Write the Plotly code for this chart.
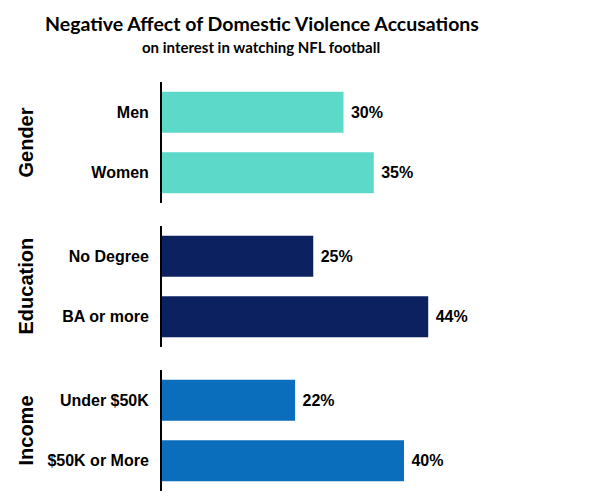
import plotly.graph_objects as go
from plotly.subplots import make_subplots

title = "Negative Affect of Domestic Violence Accusations"
subtitle = "on interest in watching NFL football"

groups = ["Gender", "Education", "Income"]
gender_cats = ["Men", "Women"]
gender_vals = [30, 35]
education_cats = ["No Degree", "BA or more"]
education_vals = [25, 44]
income_cats = ["Under $50K", "$50K or More"]
income_vals = [22, 40]
colors = ["#5cd9c9", "#0c2260", "#0a6ebd"]

cats = [gender_cats, education_cats, income_cats]
vals = [gender_vals, education_vals, income_vals]

W, H = 600, 503
fig = make_subplots(rows=3, cols=1)

# pixel layout
x0 = 162
px_per_unit = 6.05
y_domains_px = [(82, 203), (226, 347), (370, 491)]

LAB = "Liberation Sans"
for i in range(3):
    fig.add_trace(go.Bar(
        y=cats[i], x=vals[i], orientation="h",
        marker=dict(color=colors[i], line=dict(width=0)),
        texttemplate=" %{x}%", textposition="outside",
        textfont=dict(family=LAB, size=16, color="black", weight="bold"),
        cliponaxis=False, showlegend=False, hoverinfo="skip",
    ), row=i + 1, col=1)

xmax = (W - x0) / px_per_unit
for i in range(3):
    top, bot = y_domains_px[i]
    ax = "" if i == 0 else str(i + 1)
    fig.layout["xaxis" + ax].update(
        domain=[x0 / W, 1], range=[0, xmax], visible=False)
    fig.layout["yaxis" + ax].update(
        domain=[1 - bot / H, 1 - top / H],
        autorange="reversed",
        showline=True, linecolor="black", linewidth=2,
        showgrid=False, zeroline=False, ticks="",
        ticklabelstandoff=8,
        tickfont=dict(family=LAB, size=16, color="black", weight="bold"),
    )
    fig.add_annotation(
        text=groups[i], xref="paper", yref="paper",
        x=25 / W, y=1 - (top + bot) / 2 / H, textangle=-90,
        showarrow=False, xanchor="center", yanchor="middle",
        font=dict(family=LAB, size=20, color="black", weight="bold"))

fig.update_layout(bargap=0.32)

fig.add_annotation(text=title, xref="paper", yref="paper",
                   x=262 / W, y=1 - 23 / H, showarrow=False,
                   xanchor="center", yanchor="middle",
                   font=dict(family="Lato", size=19.5, color="black", weight="bold"))
fig.add_annotation(text=subtitle, xref="paper", yref="paper",
                   x=261 / W, y=1 - 47 / H, showarrow=False,
                   xanchor="center", yanchor="middle",
                   font=dict(family="Lato", size=15, color="black", weight="bold"))

fig.update_layout(width=W, height=H, margin=dict(l=0, r=0, t=0, b=0),
                  plot_bgcolor="white", paper_bgcolor="white")
fig.write_html("out.html")
